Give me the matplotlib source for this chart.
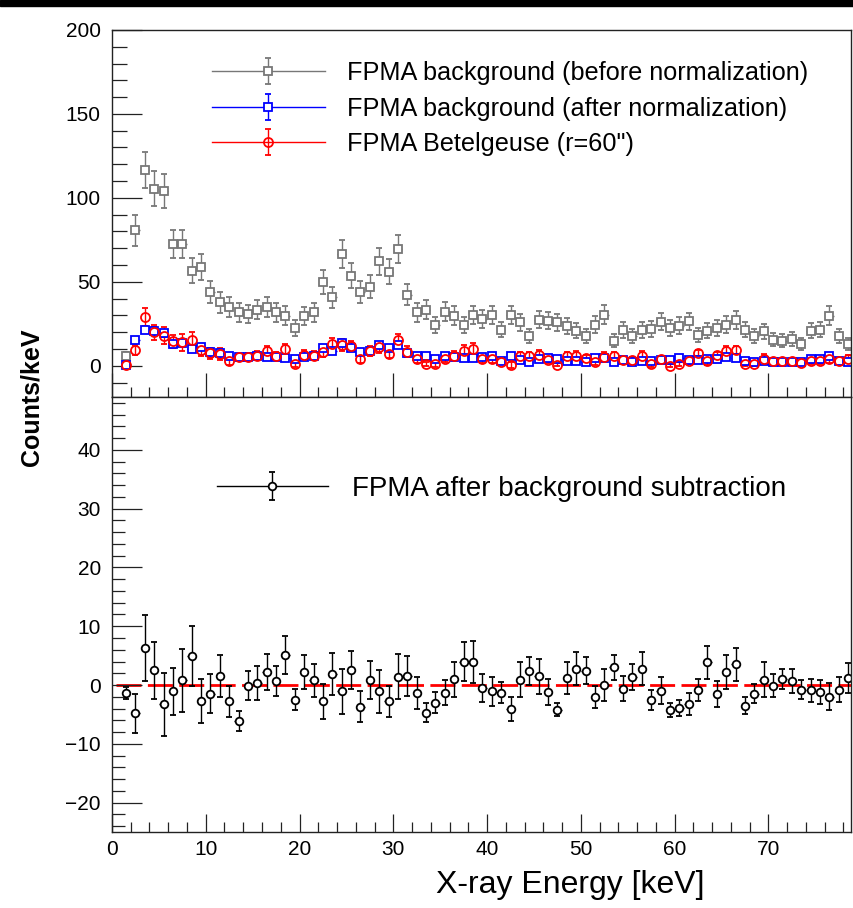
import numpy as np
import matplotlib
matplotlib.use("Agg")
import matplotlib.pyplot as plt
from matplotlib.lines import Line2D
from matplotlib.patches import Rectangle
from matplotlib.container import ErrorbarContainer
from matplotlib.legend_handler import HandlerErrorbar
from matplotlib.ticker import MultipleLocator, NullFormatter

plt.rcParams['font.family'] = ['Liberation Sans', 'DejaVu Sans']

# energy bins (1 keV wide)
energy = np.arange(1.5, 79.0, 1.0)
half_bin = 0.45

# FPMA background before normalization
bkg_raw = [5.6, 80.6, 116.8, 105.5, 104.0, 72.6, 72.6, 56.7, 58.7, 43.8,
           37.8, 34.8, 31.8, 30.8, 33.4, 34.8, 31.8, 29.9, 22.3, 29.4,
           31.8, 50.1, 40.8, 66.7, 53.7, 44.0, 47.2, 62.1, 56.1, 69.6,
           42.4, 31.8, 33.4, 24.2, 32.2, 29.9, 24.2, 30.2, 27.9, 30.2,
           21.5, 30.2, 25.9, 17.9, 27.5, 26.9, 25.9, 23.5, 20.9, 17.9,
           24.5, 30.4, 14.9, 21.3, 17.9, 21.3, 21.9, 26.3, 22.3, 23.9,
           26.4, 18.3, 20.9, 22.3, 24.5, 27.3, 21.5, 17.9, 20.5, 15.5,
           14.9, 15.9, 13.0, 20.9, 21.5, 29.9, 17.9, 13.0]
bkg_raw_err = [2.4, 9.0, 10.8, 10.3, 10.2, 8.5, 8.5, 7.5, 7.7, 6.6,
               6.1, 5.9, 5.6, 5.5, 5.8, 5.9, 5.6, 5.5, 4.7, 5.4,
               5.6, 7.1, 6.4, 8.2, 7.3, 6.6, 6.9, 7.9, 7.5, 8.3,
               6.5, 5.6, 5.8, 4.9, 5.7, 5.5, 4.9, 5.5, 5.3, 5.5,
               4.6, 5.5, 5.1, 4.2, 5.2, 5.2, 5.1, 4.8, 4.6, 4.2,
               4.9, 5.5, 3.9, 4.6, 4.2, 4.6, 4.7, 5.1, 4.7, 4.9,
               5.1, 4.3, 4.6, 4.7, 4.9, 5.2, 4.6, 4.2, 4.5, 3.9,
               3.9, 4.0, 3.6, 4.6, 4.6, 5.5, 4.2, 3.6]

# FPMA background after normalization
bkg_norm = [0.4, 15.3, 21.5, 20.9, 19.3, 13.0, 13.5, 9.9, 11.3, 8.0,
            7.4, 6.0, 5.4, 5.0, 5.6, 5.4, 5.4, 4.4, 4.0, 5.0,
            6.0, 10.3, 8.5, 13.5, 10.3, 8.0, 9.0, 12.5, 10.3, 12.5,
            7.4, 5.6, 5.9, 4.0, 6.0, 5.0, 4.5, 4.5, 5.0, 5.6,
            2.7, 5.6, 3.6, 2.3, 4.0, 4.5, 4.0, 3.0, 3.0, 2.5,
            4.6, 4.6, 2.0, 3.4, 2.0, 3.0, 3.0, 3.4, 3.4, 4.6,
            3.4, 3.4, 4.0, 4.0, 5.4, 4.6, 3.0, 2.0, 3.0, 2.0,
            2.0, 2.0, 2.0, 4.0, 4.0, 6.0, 3.0, 2.0]
bkg_norm_err = [0.4, 1.7, 2.0, 1.9, 1.9, 1.6, 1.6, 1.4, 1.4, 1.2,
                1.1, 1.1, 1.0, 1.0, 1.1, 1.1, 1.0, 1.0, 0.9, 1.0,
                1.0, 1.3, 1.2, 1.5, 1.4, 1.2, 1.3, 1.5, 1.4, 1.5,
                1.2, 1.0, 1.1, 0.9, 1.1, 1.0, 0.9, 1.0, 1.0, 1.0,
                0.9, 1.0, 0.9, 0.8, 1.0, 1.0, 0.9, 0.9, 0.9, 0.8,
                0.9, 1.0, 0.7, 0.9, 0.8, 0.9, 0.9, 0.9, 0.9, 0.9,
                0.9, 0.8, 0.9, 0.9, 0.9, 1.0, 0.9, 0.8, 0.8, 0.7,
                0.7, 0.7, 0.7, 0.9, 0.9, 1.0, 0.8, 0.7]

# FPMA Betelgeuse (r=60")
src = [0.5, 9.6, 28.9, 19.9, 18.0, 14.5, 13.9, 15.3, 9.4, 7.4,
       7.0, 3.0, 5.5, 5.0, 6.0, 9.0, 6.0, 10.0, 1.0, 6.6,
       6.0, 8.0, 13.0, 12.5, 11.5, 4.0, 9.0, 10.9, 7.0, 15.3,
       8.4, 4.0, 1.0, 1.0, 4.0, 6.0, 9.0, 10.0, 4.0, 4.0,
       2.5, 0.5, 5.6, 6.0, 6.4, 3.6, 0.5, 5.6, 6.0, 4.5,
       2.4, 5.4, 5.9, 3.4, 3.4, 6.0, 1.0, 4.0, 0.0, 1.0,
       3.0, 7.4, 3.0, 6.2, 9.0, 9.4, 1.0, 1.0, 4.0, 3.0,
       3.0, 3.0, 1.6, 3.0, 3.0, 4.0, 3.0, 4.0]
src_err = [0.8, 3.0, 5.2, 4.4, 4.9, 3.7, 5.1, 4.8, 3.4, 3.1,
           3.4, 2.4, 1.4, 2.3, 2.7, 2.9, 2.3, 3.0, 1.6, 2.7,
           2.6, 2.7, 3.4, 3.5, 3.0, 2.4, 3.0, 3.3, 2.2, 3.5,
           3.2, 2.5, 1.3, 1.6, 1.8, 2.8, 3.1, 3.5, 2.2, 2.2,
           1.6, 1.8, 2.8, 2.3, 2.8, 2.0, 0.9, 2.6, 2.6, 2.1,
           1.7, 2.5, 2.0, 1.9, 2.0, 2.7, 1.5, 2.1, 1.0, 1.2,
           1.7, 1.7, 2.7, 2.0, 2.7, 2.6, 1.3, 1.4, 2.9, 1.8,
           1.5, 1.9, 1.4, 1.8, 1.8, 2.1, 1.9, 2.4]

# FPMA after background subtraction
net = [-1.3, -4.8, 6.3, 2.5, -3.3, -1.1, 0.8, 4.9, -2.7, -1.5,
       1.5, -2.8, -6.2, -0.1, 0.3, 2.2, 0.7, 5.1, -2.5, 2.2,
       0.8, -2.8, 1.9, -1.1, 2.6, -3.7, 0.9, -1.1, -2.8, 1.4,
       1.6, -1.3, -4.7, -3.0, -1.3, 1.0, 4.0, 3.9, -0.5, -1.1,
       -1.3, -4.1, 0.9, 2.4, 1.5, -1.2, -4.2, 1.2, 2.8, 2.4,
       -2.0, 0.0, 3.0, -0.6, 1.4, 2.8, -2.5, -1.0, -4.3, -3.9,
       -3.2, -0.8, 3.9, -1.5, 2.2, 3.5, -3.5, -1.5, 0.9, -0.1,
       1.0, 0.7, -0.8, -0.9, -1.2, -2.0, -0.8, 1.2]
net_err = [1.0, 3.3, 5.6, 4.8, 5.3, 4.0, 5.4, 5.1, 3.7, 3.3,
           3.6, 2.6, 1.7, 2.5, 2.9, 3.1, 2.5, 3.2, 1.8, 2.9,
           2.8, 3.0, 3.6, 3.8, 3.2, 2.6, 3.2, 3.6, 2.6, 3.8,
           3.4, 2.7, 1.6, 1.8, 2.1, 3.0, 3.3, 3.6, 2.4, 2.4,
           1.8, 2.1, 3.0, 2.4, 3.0, 2.2, 1.1, 2.8, 2.8, 2.3,
           1.9, 2.7, 2.1, 2.1, 2.2, 2.8, 1.7, 2.3, 1.2, 1.4,
           1.9, 1.9, 2.8, 2.2, 2.9, 2.8, 1.5, 1.6, 3.0, 1.9,
           1.7, 2.1, 1.6, 2.0, 2.0, 2.3, 2.1, 2.5]

labels_top = ["FPMA background (before normalization)",
              "FPMA background (after normalization)",
              "FPMA Betelgeuse (r=60\")"]
label_bottom = "FPMA after background subtraction"

GRAY = '#777777'


def draw(ax, y, err, color, marker, ms, mfc, xbar=True):
    if xbar:
        ax.errorbar(energy, y, xerr=half_bin, fmt='none', ecolor=color,
                    elinewidth=1.0, capsize=0)
    return ax.errorbar(energy, y, yerr=err, fmt=marker, color=color,
                       ms=ms, mfc=mfc, mec=color, mew=1.3,
                       elinewidth=1.0, capsize=2.4, capthick=1.0)


fig = plt.figure(figsize=(8.54, 9.08), dpi=100)
fig.patches.append(Rectangle((0, 1 - 6 / 908), 1, 6 / 908,
                             transform=fig.transFigure, color='black'))

ax1 = fig.add_axes([0.1311, 0.5628, 0.8653, 0.4042])
ax2 = fig.add_axes([0.1311, 0.0837, 0.8653, 0.4791])

# top panel
h1 = draw(ax1, bkg_raw, bkg_raw_err, GRAY, 's', 6.0, 'white')
h2 = draw(ax1, bkg_norm, bkg_norm_err, 'blue', 's', 6.0, 'white')
h3 = draw(ax1, src, src_err, 'red', 'o', 6.5, 'none', xbar=False)

ax1.set_xlim(0, 78.8)
ax1.set_ylim(-18.6, 200)
ax1.yaxis.set_major_locator(MultipleLocator(50))
ax1.yaxis.set_minor_locator(MultipleLocator(10))
ax1.xaxis.set_major_locator(MultipleLocator(10))
ax1.xaxis.set_minor_locator(MultipleLocator(2))
ax1.xaxis.set_major_formatter(NullFormatter())

hmap = {ErrorbarContainer: HandlerErrorbar(yerr_size=0.52)}
handles = [(Line2D([], [], color=c, lw=1.0), h)
           for c, h in zip([GRAY, 'blue', 'red'], [h1, h2, h3])]
ax1.legend(handles, labels_top, loc='upper left', bbox_to_anchor=(0.135, 0.915),
           frameon=False, fontsize=18.2, handlelength=4.47, handletextpad=0.87,
           labelspacing=0.45, borderpad=0, borderaxespad=0, handler_map=hmap)

# bottom panel
ax2.axhline(0, xmin=0.005, color='red', lw=2.0, dashes=(9.0, 2.3), zorder=1.5)
h4 = draw(ax2, net, net_err, 'black', 'o', 5.5, 'white')

ax2.set_xlim(0, 78.8)
ax2.set_ylim(-25, 49)
ax2.yaxis.set_major_locator(MultipleLocator(10))
ax2.yaxis.set_minor_locator(MultipleLocator(2))
ax2.xaxis.set_major_locator(MultipleLocator(10))
ax2.xaxis.set_minor_locator(MultipleLocator(2))

ax2.legend([(Line2D([], [], color='black', lw=1.0), h4)], [label_bottom],
           loc='upper left', bbox_to_anchor=(0.142, 0.819), frameon=False,
           fontsize=20, handlelength=4.0, handletextpad=0.86,
           borderpad=0, borderaxespad=0, handler_map=hmap)

for ax in (ax1, ax2):
    for s in ax.spines.values():
        s.set_linewidth(1.0)
        s.set_color('#222222')
    ax.tick_params(which='both', direction='in', colors='#222222',
                   labelcolor='black', labelsize=15, width=0.9,
                   top=False, right=False)
    ax.tick_params(axis='y', which='major', length=21.5, pad=8)
    ax.tick_params(axis='x', which='major', pad=6)

ax1.tick_params(axis='y', which='minor', length=10.5)
ax1.tick_params(axis='x', which='major', length=17)
ax1.tick_params(axis='x', which='minor', length=7)
ax2.tick_params(axis='y', which='minor', length=9.5)
ax2.tick_params(axis='x', which='major', length=13)
ax2.tick_params(axis='x', which='minor', length=7)

fig.text(0.037, 0.562, "Counts/keV", rotation=90, fontsize=18,
         fontweight='bold', ha='center', va='center')
fig.text(0.668, 0.025, "X-ray Energy [keV]", fontsize=23,
         ha='center', va='center')

fig.savefig("out.png", dpi=100)
